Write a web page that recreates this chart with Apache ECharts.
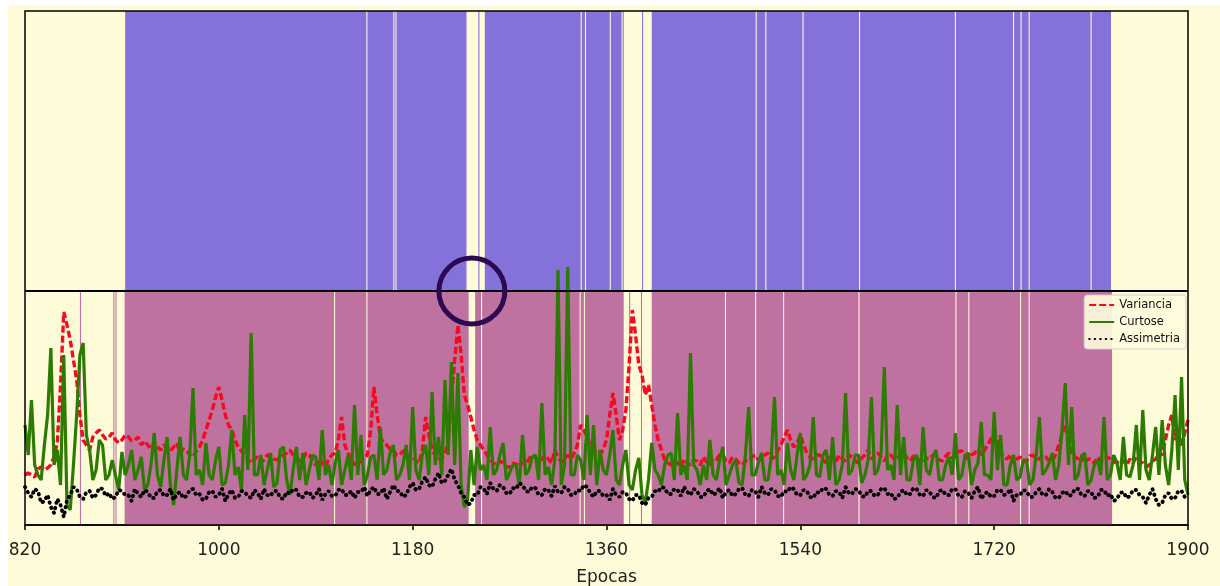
<!DOCTYPE html>
<html>
<head>
<meta charset="utf-8">
<script src="https://cdn.jsdelivr.net/npm/echarts@6.0.0/dist/echarts.min.js"></script>
<style>
  html, body { margin: 0; padding: 0; background: #ffffff; overflow: hidden; }
  #main { position: absolute; left: 8px; top: 5px; width: 1212px; height: 581px; background: #fefbd8; }
</style>
</head>
<body>
<div id="main"></div>
<script>
// uma amostra a cada 3 epocas a partir de 820
const epocaInicial = 820;
const passo = 3;

const variancia = [
  50, 52, 50, 48, 56, 58, 55, 57, 60, 68, 82, 140, 213, 200, 185, 165, 145, 110, 85, 80,
  75, 88, 92, 95, 90, 86, 88, 92, 85, 82, 85, 90, 88, 84, 85, 88, 80, 84, 80, 76,
  82, 78, 75, 80, 78, 74, 78, 82, 72, 76, 75, 70, 68, 74, 78, 85, 95, 105, 115, 128,
  138, 125, 110, 100, 95, 85, 78, 74, 70, 66, 62, 66, 68, 63, 65, 70, 70, 66, 65, 68,
  70, 72, 75, 70, 68, 64, 65, 72, 70, 64, 60, 66, 62, 58, 66, 70, 72, 85, 108, 80,
  72, 66, 60, 64, 63, 68, 70, 95, 138, 110, 88, 82, 80, 76, 75, 70, 70, 74, 72, 66,
  68, 64, 62, 75, 108, 90, 75, 70, 65, 68, 70, 85, 125, 165, 200, 170, 130, 120, 108, 95,
  85, 80, 75, 70, 65, 62, 60, 64, 62, 58, 58, 62, 60, 64, 62, 60, 66, 70, 68, 64,
  66, 70, 66, 62, 75, 68, 63, 66, 70, 66, 72, 80, 100, 95, 88, 80, 75, 72, 70, 76,
  85, 110, 132, 110, 85, 95, 115, 160, 215, 190, 160, 150, 130, 140, 120, 100, 85, 75, 65, 62,
  60, 64, 62, 58, 66, 62, 60, 65, 64, 60, 68, 63, 60, 66, 65, 70, 70, 64, 62, 68,
  66, 62, 60, 64, 64, 68, 70, 65, 66, 70, 72, 66, 68, 74, 80, 88, 95, 85, 78, 82,
  90, 80, 72, 68, 66, 70, 70, 65, 62, 68, 66, 63, 70, 66, 64, 70, 68, 64, 62, 67,
  70, 75, 66, 70, 72, 68, 64, 70, 70, 66, 66, 72, 72, 67, 64, 69, 68, 63, 62, 67,
  66, 70, 70, 65, 64, 69, 72, 67, 68, 74, 74, 69, 66, 70, 72, 76, 70, 75, 80, 86,
  92, 84, 72, 68, 66, 70, 62, 66, 68, 63, 64, 69, 70, 66, 66, 70, 68, 64, 64, 70,
  80, 90, 100, 88, 72, 68, 66, 70, 62, 66, 66, 62, 68, 64, 64, 68, 66, 63, 62, 66,
  64, 60, 66, 62, 68, 64, 62, 58, 60, 64, 66, 72, 70, 85, 100, 110, 85, 95, 78, 92,
  105
];

const curtose = [
  100, 70, 125, 60, 50, 45, 80, 110, 177, 60, 75, 40, 170, 20, 15, 60, 110, 170, 182, 90,
  75, 45, 55, 85, 80, 45, 50, 65, 50, 35, 73, 50, 60, 75, 45, 55, 68, 35, 40, 60,
  92, 50, 38, 65, 88, 40, 20, 55, 88, 50, 45, 70, 137, 50, 55, 40, 82, 50, 45, 65,
  78, 40, 42, 60, 95, 50, 58, 35, 110, 55, 192, 50, 50, 70, 40, 55, 72, 38, 42, 75,
  78, 45, 30, 55, 78, 45, 72, 40, 55, 70, 68, 45, 95, 50, 60, 40, 62, 75, 40, 55,
  70, 45, 120, 50, 90, 40, 50, 68, 70, 45, 98, 50, 55, 72, 80, 45, 50, 60, 80, 45,
  118, 55, 45, 70, 80, 50, 133, 60, 88, 50, 145, 70, 163, 60, 152, 40, 18, 25, 75, 40,
  78, 55, 60, 45, 98, 50, 55, 70, 82, 45, 52, 60, 60, 40, 90, 50, 55, 68, 70, 45,
  122, 50, 58, 40, 65, 255, 40, 60, 258, 50, 50, 70, 65, 45, 110, 50, 100, 40, 75, 55,
  50, 70, 95, 45, 40, 60, 75, 40, 35, 55, 67, 30, 22, 45, 82, 55, 50, 40, 60, 70,
  72, 45, 112, 50, 60, 45, 172, 60, 55, 40, 60, 45, 85, 50, 45, 65, 78, 40, 50, 60,
  65, 42, 40, 70, 118, 50, 50, 62, 72, 45, 45, 68, 128, 50, 55, 40, 82, 55, 45, 70,
  92, 45, 50, 60, 108, 50, 48, 70, 75, 45, 88, 40, 45, 60, 132, 50, 55, 70, 70, 42,
  50, 65, 128, 50, 55, 72, 158, 55, 60, 45, 120, 50, 88, 45, 45, 65, 70, 40, 98, 55,
  50, 68, 75, 45, 45, 60, 68, 50, 92, 45, 50, 70, 72, 40, 55, 62, 103, 50, 50, 45,
  113, 55, 90, 40, 40, 60, 70, 45, 48, 65, 65, 40, 45, 70, 108, 50, 55, 62, 72, 45,
  60, 95, 142, 60, 118, 45, 50, 68, 72, 40, 45, 60, 65, 50, 108, 45, 50, 70, 62, 45,
  88, 50, 48, 60, 100, 45, 115, 55, 45, 70, 98, 50, 105, 60, 40, 75, 130, 55, 148, 45,
  30
];

const assimetria = [
  38, 32, 28, 36, 34, 22, 24, 30, 18, 12, 26, 20, 8, 25, 30, 38, 36, 28, 26, 33,
  34, 27, 30, 37, 36, 29, 32, 26, 28, 35, 34, 30, 30, 24, 36, 31, 28, 35, 33, 27,
  27, 34, 35, 29, 30, 36, 25, 31, 33, 27, 29, 35, 36, 30, 31, 25, 26, 33, 34, 28,
  30, 36, 24, 31, 35, 27, 28, 34, 33, 29, 27, 35, 32, 26, 36, 30, 29, 34, 34, 27,
  26, 33, 31, 36, 35, 28, 28, 32, 33, 27, 30, 36, 25, 31, 34, 29, 29, 35, 36, 30,
  30, 34, 27, 33, 33, 38, 29, 35, 38, 31, 31, 37, 26, 33, 40, 34, 34, 28, 30, 38,
  42, 35, 36, 44, 48, 40, 38, 46, 52, 42, 44, 50, 56, 45, 40, 32, 28, 20, 22, 30,
  30, 38, 36, 31, 42, 36, 34, 40, 38, 32, 31, 37, 36, 42, 40, 34, 33, 38, 37, 30,
  30, 36, 35, 29, 39, 33, 32, 38, 36, 30, 30, 35, 34, 40, 38, 32, 28, 34, 34, 29,
  30, 25, 36, 30, 28, 33, 32, 26, 24, 30, 30, 22, 20, 27, 28, 34, 33, 38, 37, 31,
  31, 36, 35, 29, 38, 33, 30, 36, 34, 28, 28, 34, 36, 30, 32, 37, 27, 33, 35, 29,
  31, 36, 37, 30, 29, 35, 34, 28, 38, 32, 30, 36, 35, 29, 28, 34, 33, 38, 36, 30,
  30, 35, 34, 28, 27, 33, 32, 37, 36, 30, 29, 34, 33, 27, 38, 32, 31, 36, 35, 29,
  28, 34, 34, 29, 30, 36, 37, 31, 32, 26, 27, 33, 35, 30, 31, 37, 36, 30, 29, 35,
  33, 28, 27, 34, 35, 30, 30, 36, 36, 29, 28, 34, 32, 27, 34, 38, 26, 31, 33, 28,
  29, 35, 35, 30, 31, 36, 24, 30, 30, 35, 34, 28, 28, 33, 36, 30, 30, 36, 33, 27,
  27, 32, 34, 29, 30, 36, 36, 30, 29, 34, 33, 27, 28, 35, 35, 29, 31, 24, 26, 32,
  33, 27, 29, 35, 35, 30, 28, 22, 30, 36, 26, 20, 22, 30, 32, 26, 27, 34, 34, 28,
  30
];

// faixas de classificacao por epoca [inicio, fim]
const faixasSuperiores = [
  [913, 1137], [1138, 1162], [1163, 1164], [1165, 1230], [1241, 1242],
  [1247, 1336], [1337, 1340], [1341, 1363], [1364, 1374], [1375, 1376],
  [1393, 1394], [1402, 1498.5], [1499.5, 1507.5], [1508.5, 1542], [1543, 1594.5],
  [1595.5, 1683.5], [1684.5, 1737.5], [1738.5, 1744.5], [1745.5, 1752],
  [1753, 1809.5], [1810.5, 1828.5]
];

const faixasInferiores = [
  [871, 872], [902, 903], [904, 905], [912.5, 1107], [1108, 1137],
  [1138, 1232], [1238, 1243.5], [1244.5, 1335], [1336, 1339], [1340, 1376],
  [1381, 1382], [1392, 1393], [1402, 1470], [1471, 1498], [1499, 1524],
  [1525, 1594], [1595, 1684], [1685, 1696], [1697, 1744], [1745, 1752],
  [1753, 1829.5]
];

const divisao = 234;   // limite entre os dois paineis
const topo = 514;
const marcasX = [820, 1000, 1180, 1360, 1540, 1720, 1900];

function pares(valores) {
  return valores.map((v, i) => [epocaInicial + i * passo, v]);
}

function faixaSerie(nome, faixas, base, altura, cor) {
  return {
    type: 'custom',
    name: nome,
    silent: true,
    z: 1,
    data: faixas,
    encode: { x: [0, 1] },
    renderItem: function (params, api) {
      const p0 = api.coord([api.value(0), altura]);
      const p1 = api.coord([api.value(1), base]);
      return {
        type: 'rect',
        shape: { x: p0[0], y: p0[1], width: p1[0] - p0[0], height: p1[1] - p0[1] },
        style: { fill: cor }
      };
    }
  };
}

const chart = echarts.init(document.getElementById('main'), null, { renderer: 'canvas' });

const option = {
  animation: false,
  backgroundColor: 'transparent',
  textStyle: { fontFamily: 'DejaVu Sans' },
  grid: {
    left: 17,
    right: 32,
    top: 6,
    bottom: 61,
    containLabel: false,
    outerBoundsMode: 'none',
    show: true,
    z: 10,
    borderColor: '#000',
    borderWidth: 1.5,
    backgroundColor: 'transparent'
  },
  legend: {
    data: ['Variancia', 'Curtose', 'Assimetria'],
    orient: 'vertical',
    right: 34,
    top: 290,
    itemWidth: 25,
    itemHeight: 12,
    itemGap: 5,
    padding: [4, 6, 4, 4],
    backgroundColor: 'rgba(255,252,222,0.9)',
    borderColor: '#cfcfcf',
    borderWidth: 1,
    borderRadius: 3,
    itemStyle: { opacity: 0 },
    textStyle: { fontSize: 11.5, color: '#111', fontFamily: 'DejaVu Sans' }
  },
  xAxis: {
    type: 'value',
    min: 820,
    max: 1900,
    interval: 180,
    name: 'Epocas',
    nameLocation: 'middle',
    nameGap: 44,
    nameTextStyle: { fontSize: 17, color: '#222' },
    axisLine: { lineStyle: { color: '#000', width: 1.5 } },
    axisTick: { length: 5, lineStyle: { color: '#000', width: 1.5 } },
    axisLabel: {
      fontSize: 17,
      color: '#222',
      margin: 17,
      formatter: v => marcasX.includes(v) ? String(v) : ''
    },
    splitLine: { show: false }
  },
  yAxis: {
    type: 'value',
    min: 0,
    max: topo,
    axisLine: { show: false },
    axisTick: { show: false },
    axisLabel: { show: false },
    splitLine: { show: false }
  },
  series: [
    faixaSerie('faixaSup', faixasSuperiores, divisao, topo, '#8571da'),
    faixaSerie('faixaInf', faixasInferiores, 0, divisao, '#bf729f'),
    {
      name: 'Variancia',
      type: 'line',
      z: 3,
      symbol: 'none',
      data: pares(variancia),
      lineStyle: { color: '#f50a1e', width: 3.4, type: [7, 3] },
      itemStyle: { color: '#f50a1e' },
      markLine: {
        silent: true,
        symbol: 'none',
        label: { show: false },
        lineStyle: { color: '#000', width: 1.8, type: 'solid' },
        data: [{ yAxis: divisao }]
      }
    },
    {
      name: 'Curtose',
      type: 'line',
      z: 4,
      symbol: 'none',
      data: pares(curtose),
      lineStyle: { color: '#2e7b04', width: 3.2 },
      itemStyle: { color: '#2e7b04' }
    },
    {
      name: 'Assimetria',
      type: 'line',
      z: 5,
      symbol: 'none',
      data: pares(assimetria),
      lineStyle: { color: '#000', width: 3.8, type: [0.5, 5], cap: 'round' },
      itemStyle: { color: '#000' }
    }
  ]
};

chart.setOption(option);

// marca circular sobre a transicao destacada
const centro = chart.convertToPixel({ gridIndex: 0 }, [1235, divisao]);
chart.setOption({
  graphic: [{
    type: 'circle',
    z: 100,
    silent: true,
    shape: { cx: centro[0], cy: centro[1], r: 33 },
    style: { fill: 'none', stroke: '#2b0a52', lineWidth: 5 }
  }]
});
</script>
</body>
</html>
